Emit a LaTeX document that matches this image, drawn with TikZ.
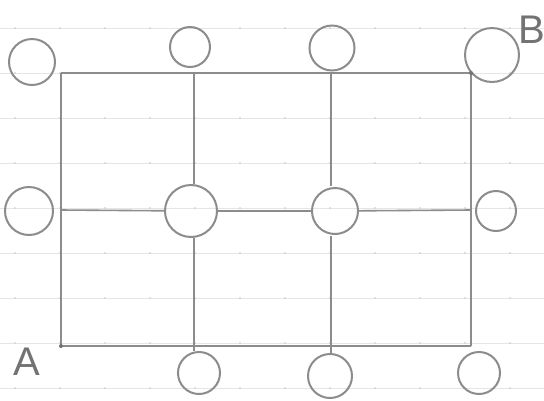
\documentclass[tikz,border=0pt]{standalone}
\usepackage{fontspec}
\setmainfont{Liberation Sans}
\begin{document}
\begin{tikzpicture}[x=1pt,y=-1pt,
  pencil/.style={draw=black!45, line width=1.6pt},
  ring/.style={circle, draw=black!45, line width=2pt, inner sep=0pt},
  paper/.style={draw=black!10, line width=0.7pt},
  lbl/.style={text=black!55, font=\fontsize{40}{40}\selectfont}]
\useasboundingbox (0,0) rectangle (544,400);
\fill[white] (0,0) rectangle (544,400);
% ruled paper
\foreach \yy in {28,73,118,163,208,253,298,343,388}{
  \draw[paper] (0,\yy) -- (544,\yy);
  \foreach \xx in {15,60,...,540}{\fill[black!22] (\xx,\yy) circle (0.8);}
}
% grid points
\coordinate (g00) at (61,73);  \coordinate (g10) at (194,73);
\coordinate (g20) at (331,73); \coordinate (g30) at (471,73);
\coordinate (g01) at (61,210); \coordinate (g31) at (471,210);
\coordinate (g02) at (61,346); \coordinate (g12) at (194,346);
\coordinate (g22) at (331,346); \coordinate (g32) at (471,346);
% circles
\node[ring, minimum size=46] (t0) at (32,62) {};
\node[ring, minimum size=40] (t1) at (190,47) {};
\node[ring, minimum size=45] (t2) at (332,48) {};
\node[ring, minimum size=54] (t3) at (492,55) {};
\node[ring, minimum size=48] (m0) at (29,211) {};
\node[ring, minimum size=52] (m1) at (191,211) {};
\node[ring, minimum size=46] (m2) at (335,211) {};
\node[ring, minimum size=40] (m3) at (496,211) {};
\node[ring, minimum size=42] (b1) at (199,373) {};
\node[ring, minimum size=44] (b2) at (330,376) {};
\node[ring, minimum size=42] (b3) at (479,373) {};
% labels
\node[lbl] (A) at (27,362) {A};
\node[lbl] (B) at (532,30) {B};
% grid lines
\draw[pencil] (g00) -- (g30);
\draw[pencil] (g02) -- (g32);
\draw[pencil] (g00) -- (g02);
\draw[pencil] (g30) -- (g32);
\draw[pencil] (g01) -- (m1);
\draw[pencil] (m1) -- (m2);
\draw[pencil] (m2) -- (g31);
\draw[pencil] (g10) -- (g10 |- m1.north);
\draw[pencil] (g10 |- m1.south) -- (g12);
\draw[pencil] (g12) -- (g12 |- b1.north);
\draw[pencil] (g20) -- ([yshift=1pt]g20 |- m2.north);
\draw[pencil] ([yshift=-1pt]g20 |- m2.south) -- (g22);
\draw[pencil] (g22) -- (g22 |- b2.north);
\fill[black!55] (g02) circle (2);
\fill[black!55] (g30) circle (2);
\end{tikzpicture}
\end{document}
